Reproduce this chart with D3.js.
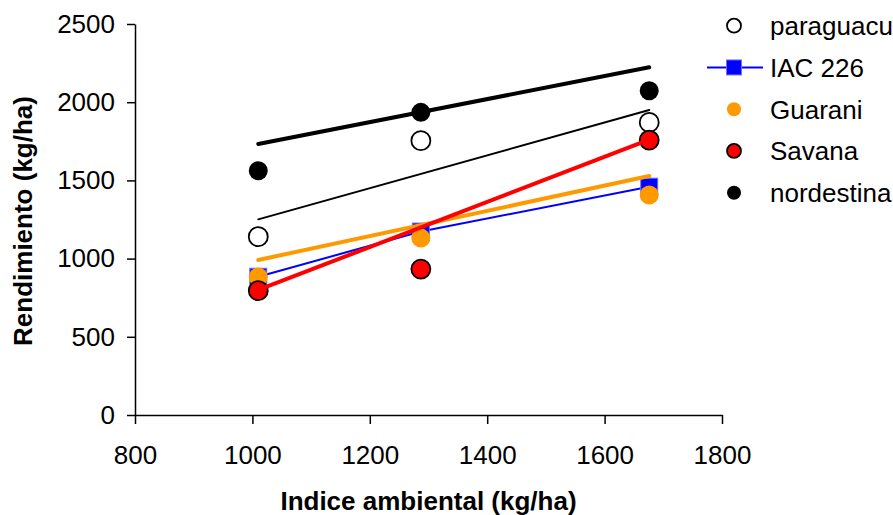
<!DOCTYPE html>
<html>
<head>
<meta charset="utf-8">
<script src="https://cdn.jsdelivr.net/npm/d3@7"></script>
<style>
  body { margin: 0; background: #fff; }
  text { font-family: "Liberation Sans", Arial, sans-serif; }
</style>
</head>
<body>
<div id="chart"></div>
<script>
// data
const indice = [1010, 1287, 1676];
const paraguacu = [1140, 1754, 1871];
const iac226 = [884, 1173, 1460];
const guarani = [882, 1131, 1407];
const savana = [795, 933, 1758];
const nordestina = [1562, 1935, 2073];

// trend line ends (at first and last indice)
const trendParaguacu = [1251, 1950];
const trendGuarani = [991, 1528];
const trendSavana = [800, 1760];
const trendNordestina = [1733, 2223];

const xTicks = [800, 1000, 1200, 1400, 1600, 1800];
const yTicks = [0, 500, 1000, 1500, 2000, 2500];
const legendNames = ["paraguacu", "IAC 226", "Guarani", "Savana", "nordestina"];

const width = 893, height = 515;
const margin = {top: 24, right: 171, bottom: 100, left: 135};

const svg = d3.select("#chart")
  .append("svg")
    .attr("width", width)
    .attr("height", height);

const x = d3.scaleLinear()
  .domain([800, 1800])
  .range([margin.left, width - margin.right]);
const y = d3.scaleLinear()
  .domain([0, 2500])
  .range([height - margin.bottom, margin.top]);

// axes
const xAxis = svg.append("g")
  .attr("transform", `translate(0,${y(0)})`)
  .call(d3.axisBottom(x).tickValues(xTicks).tickSizeInner(9).tickSizeOuter(0).tickPadding(22).tickFormat(d3.format("d")));
const yAxis = svg.append("g")
  .attr("transform", `translate(${x(800)},0)`)
  .call(d3.axisLeft(y).tickValues(yTicks).tickSizeInner(8).tickSizeOuter(0).tickPadding(12).tickFormat(d3.format("d")));
[xAxis, yAxis].forEach(a => {
  a.select(".domain").attr("stroke", "#000").attr("stroke-width", 1.5);
  a.selectAll(".tick line").attr("stroke", "#000").attr("stroke-width", 1.5);
  a.selectAll(".tick text")
    .attr("fill", "#000")
    .style("font-family", "'Liberation Sans', Arial, sans-serif")
    .style("font-size", "26px");
});

// axis titles
svg.append("text")
  .attr("x", (x(800) + x(1800)) / 2)
  .attr("y", 510)
  .attr("text-anchor", "middle")
  .style("font-size", "26px")
  .style("font-weight", "bold")
  .text("Indice ambiental (kg/ha)");

svg.append("text")
  .attr("transform", "rotate(-90)")
  .attr("x", -221)
  .attr("y", 32)
  .attr("text-anchor", "middle")
  .style("font-size", "26px")
  .style("font-weight", "bold")
  .text("Rendimiento (kg/ha)");

const pts = vals => vals.map((v, i) => [indice[i], v]);
const line = d3.line().x(d => x(d[0])).y(d => y(d[1]));
const xEnds = d3.extent(indice);

// IAC 226 line series
svg.append("path")
  .datum(pts(iac226))
  .attr("fill", "none")
  .attr("stroke", "#0000ff")
  .attr("stroke-width", 2)
  .attr("d", line);

const r = 9.5;
// markers
svg.selectAll(".m-par").data(pts(paraguacu)).join("circle")
  .attr("cx", d => x(d[0])).attr("cy", d => y(d[1])).attr("r", r)
  .attr("fill", "#fff").attr("stroke", "#000").attr("stroke-width", 1.8);

svg.selectAll(".m-iac").data(pts(iac226)).join("rect")
  .attr("x", d => x(d[0]) - 8.5).attr("y", d => y(d[1]) - 8.5)
  .attr("width", 17).attr("height", 17)
  .attr("fill", "#0000ff").attr("stroke", "#7070ff").attr("stroke-width", 1);

svg.selectAll(".m-gua").data(pts(guarani)).join("circle")
  .attr("cx", d => x(d[0])).attr("cy", d => y(d[1])).attr("r", r)
  .attr("fill", "#ff9900");

svg.selectAll(".m-sav").data(pts(savana)).join("circle")
  .attr("cx", d => x(d[0])).attr("cy", d => y(d[1])).attr("r", r)
  .attr("fill", "#ff0000").attr("stroke", "#000").attr("stroke-width", 1.8);

svg.selectAll(".m-nor").data(pts(nordestina)).join("circle")
  .attr("cx", d => x(d[0])).attr("cy", d => y(d[1])).attr("r", r)
  .attr("fill", "#000");

// trend lines
const trends = [
  {vals: trendParaguacu, color: "#000", w: 2},
  {vals: trendGuarani, color: "#ff9900", w: 4},
  {vals: trendSavana, color: "#ff0000", w: 4},
  {vals: trendNordestina, color: "#000", w: 4}
];
trends.forEach(t => {
  svg.append("path")
    .datum([[xEnds[0], t.vals[0]], [xEnds[1], t.vals[1]]])
    .attr("fill", "none")
    .attr("stroke", t.color)
    .attr("stroke-width", t.w)
    .attr("stroke-linecap", "round")
    .attr("d", line);
});

// legend
const lg = svg.append("g")
  .selectAll("g")
  .data(legendNames)
  .join("g")
    .attr("transform", (d, i) => `translate(734,${25.7 + i * 41.75})`);

lg.append("text")
  .attr("x", 36)
  .attr("dy", "0.36em")
  .style("font-size", "26px")
  .text(d => d);

lg.each(function(d, i) {
  const g = d3.select(this);
  if (i === 1) {
    g.append("line").attr("x1", -27).attr("x2", 29)
      .attr("stroke", "#0000ff").attr("stroke-width", 2);
    g.append("rect").attr("x", -7.5).attr("y", -7.5).attr("width", 15).attr("height", 15)
      .attr("fill", "#0000ff").attr("stroke", "#7070ff");
  } else {
    const fills = ["#fff", null, "#ff9900", "#ff0000", "#000"];
    const c = g.append("circle").attr("r", 7).attr("fill", fills[i]);
    if (i === 0 || i === 3) c.attr("stroke", "#000").attr("stroke-width", 1.8);
  }
});
</script>
</body>
</html>
